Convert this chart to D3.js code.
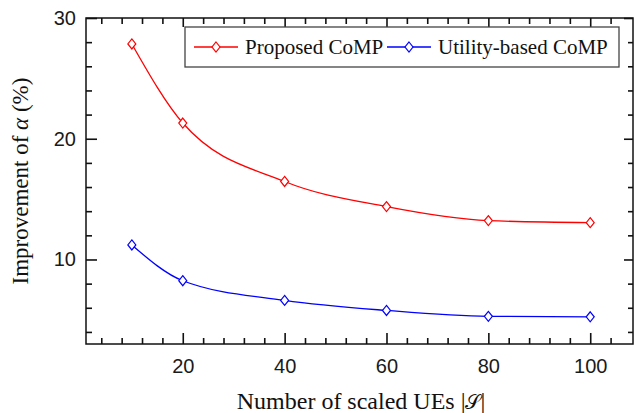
<!DOCTYPE html>
<html>
<head>
<meta charset="utf-8">
<script src="https://cdn.jsdelivr.net/npm/d3@7"></script>
<style>
  body { margin: 0; background: #fff; }
</style>
</head>
<body>
<div class="chart"></div>
<script>
// values
const ueCounts = [10, 20, 40, 60, 80, 100]
const proposedComp = [27.85, 21.3, 16.46, 14.38, 13.22, 13.05]
const utilityComp = [11.2, 8.24, 6.61, 5.78, 5.29, 5.25]
const xTicks = [20, 40, 60, 80, 100]
const yTicks = [10, 20, 30]
const seriesNames = ["Proposed CoMP", "Utility-based CoMP"]
const seriesColors = ["#ff0000", "#0000ff"]

const serif = '"Liberation Serif", "Times New Roman", serif'
const sans = '"Liberation Sans", Arial, sans-serif'

const W = 634, H = 413
const margin = {left: 86, top: 18, right: 1, bottom: 69}
const w = W - margin.left - margin.right
const h = H - margin.top - margin.bottom

const svg = d3.select(".chart").append("svg")
  .attr("width", W)
  .attr("height", H)

const xScale = d3.scaleLinear().domain([1, 108.4]).range([0, w])
const yScale = d3.scaleLinear().domain([3, 30]).range([h, 0])

const container = svg.append("g")
  .attr("transform", `translate(${margin.left}, ${margin.top})`)

// minor ticks every 4 on x, every 2 on y
const xMinor = d3.range(4, 108, 4).filter(v => v % 20 !== 0)
const yMinor = d3.range(4, 30, 2).filter(v => v % 10 !== 0)

function styleAxis(g) {
  g.select(".domain").remove()
  g.selectAll(".tick line").attr("stroke", "#111").attr("stroke-width", 1.6)
  g.selectAll(".tick text")
    .attr("font-family", sans)
    .attr("font-size", 20)
    .attr("fill", "#1a1a1a")
}

// bottom
container.append("g").attr("transform", `translate(0, ${h})`)
  .call(d3.axisBottom(xScale).tickValues(xTicks).tickSize(-11).tickPadding(15))
  .call(styleAxis)
container.append("g").attr("transform", `translate(0, ${h})`)
  .call(d3.axisBottom(xScale).tickValues(xMinor).tickSize(-6).tickFormat(""))
  .call(styleAxis)
// top
container.append("g")
  .call(d3.axisTop(xScale).tickValues(xTicks).tickSize(-9).tickFormat(""))
  .call(styleAxis)
container.append("g")
  .call(d3.axisTop(xScale).tickValues(xMinor).tickSize(-6).tickFormat(""))
  .call(styleAxis)
// left
container.append("g")
  .call(d3.axisLeft(yScale).tickValues(yTicks).tickSize(-11).tickPadding(10))
  .call(styleAxis)
container.append("g")
  .call(d3.axisLeft(yScale).tickValues(yMinor).tickSize(-6).tickFormat(""))
  .call(styleAxis)
// right
container.append("g").attr("transform", `translate(${w}, 0)`)
  .call(d3.axisRight(yScale).tickValues(yTicks).tickSize(-9).tickFormat(""))
  .call(styleAxis)
container.append("g").attr("transform", `translate(${w}, 0)`)
  .call(d3.axisRight(yScale).tickValues(yMinor).tickSize(-5).tickFormat(""))
  .call(styleAxis)

container.append("rect")
  .attr("width", w).attr("height", h)
  .attr("fill", "none").attr("stroke", "#111").attr("stroke-width", 1.5)

// lines + markers
const series = [proposedComp, utilityComp].map((vals, i) => ({
  name: seriesNames[i],
  color: seriesColors[i],
  points: ueCounts.map((x, j) => ({x: x, y: vals[j]}))
}))

const lineGen = d3.line()
  .x(d => xScale(d.x))
  .y(d => yScale(d.y))
  .curve(d3.curveMonotoneX)

const diamond = "M0,-5L4,0L0,5L-4,0Z"

container.selectAll(".series-line").data(series).join("path")
  .attr("class", "series-line")
  .attr("d", d => lineGen(d.points))
  .attr("fill", "none")
  .attr("stroke", d => d.color)
  .attr("stroke-width", 1.3)

series.forEach(s => {
  container.selectAll(null).data(s.points).join("path")
    .attr("d", diamond)
    .attr("transform", d => `translate(${xScale(d.x)}, ${yScale(d.y)})`)
    .attr("fill", "#fff")
    .attr("stroke", s.color)
    .attr("stroke-width", 1.2)
})

// legend
const legend = svg.append("g").attr("transform", "translate(185, 27)")
legend.append("rect")
  .attr("width", 434).attr("height", 40)
  .attr("fill", "#fff").attr("stroke", "#444").attr("stroke-width", 1.3)
const legendX = [9, 202]
const item = legend.selectAll(".legend-item").data(series).join("g")
  .attr("class", "legend-item")
  .attr("transform", (d, i) => `translate(${legendX[i]}, 20)`)
item.append("line").attr("x1", 0).attr("x2", 44)
  .attr("stroke", d => d.color).attr("stroke-width", 1.3)
item.append("path").attr("d", diamond).attr("transform", "translate(22, 0)")
  .attr("fill", "#fff").attr("stroke", d => d.color).attr("stroke-width", 1.2)
item.append("text")
  .attr("x", 51).attr("y", 7)
  .attr("font-family", serif)
  .attr("font-size", 21)
  .attr("fill", "#111")
  .text(d => d.name)

// axis titles (special glyphs in their own tspans)
const xTitle = svg.append("text")
  .attr("x", margin.left + xScale(55)).attr("y", 409)
  .attr("text-anchor", "middle")
  .attr("font-family", serif)
  .attr("font-size", 24)
  .attr("fill", "#111")
xTitle.append("tspan").text("Number of scaled UEs |")
xTitle.append("tspan").attr("font-size", 20).text("𝒮")
xTitle.append("tspan").text("|")

const yTitle = svg.append("text")
  .attr("transform", `translate(28, ${margin.top + h / 2}) rotate(-90)`)
  .attr("text-anchor", "middle")
  .attr("font-family", serif)
  .attr("font-size", 23)
  .attr("fill", "#111")
yTitle.append("tspan").text("Improvement of ")
yTitle.append("tspan").attr("font-style", "italic").text("α")
yTitle.append("tspan").text(" (%)")
</script>
</body>
</html>
